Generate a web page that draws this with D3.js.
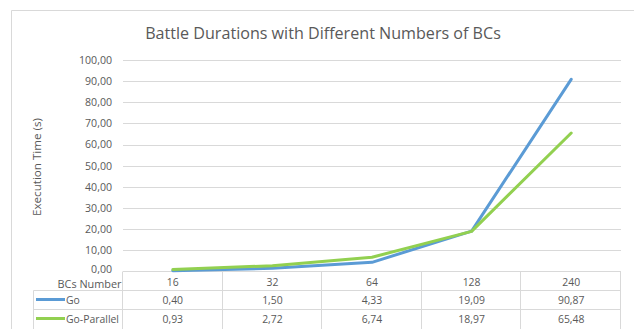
<!DOCTYPE html>
<html>
<head>
<meta charset="utf-8">
<script src="https://cdn.jsdelivr.net/npm/d3@7"></script>
<style>
  html, body { margin: 0; padding: 0; background: #fff; }
  svg { display: block; }
  text { font-family: "Open Sans", "Noto Sans", sans-serif; fill: #595959; }
</style>
</head>
<body>
<svg id="chart" width="634" height="329"></svg>
<script>
// Battle durations per number of BCs
const categories = ["16", "32", "64", "128", "240"];
const goValues = [0.40, 1.50, 4.33, 19.09, 90.87];
const goParallelValues = [0.93, 2.72, 6.74, 18.97, 65.48];
const yTicks = [0, 10, 20, 30, 40, 50, 60, 70, 80, 90, 100];
const seriesNames = ["Go", "Go-Parallel"];
const seriesColors = ["#5b9bd5", "#92d050"];

const chartTitle = "Battle Durations with Different Numbers of BCs";
const yTitle = "Execution Time (s)";
const headerLabel = "BCs Number";

const series = [
  { name: seriesNames[0], values: goValues, color: seriesColors[0] },
  { name: seriesNames[1], values: goParallelValues, color: seriesColors[1] }
];

const svg = d3.select("#chart");
const gridColor = "#d9d9d9";
const fmt = v => d3.format(".2f")(v).replace(".", ",");

// plot geometry
const plot = { left: 123, right: 621, top: 60, bottom: 271.5 };
const x = d3.scaleBand().domain(categories).range([plot.left, plot.right]).paddingInner(0).paddingOuter(0);
const y = d3.scaleLinear().domain([0, 100]).range([plot.bottom, plot.top]);

// outer chart frame (left and top edges visible)
svg.append("path")
  .attr("d", "M11.5,329 L11.5,10.5 L634,10.5")
  .attr("fill", "none").attr("stroke", gridColor).attr("stroke-width", 1);

// font size that makes a string span the given width
function sizeFor(str, targetWidth, probeSize) {
  const t = svg.append("text").attr("font-size", probeSize).text(str);
  const w = t.node().getComputedTextLength();
  t.remove();
  return probeSize * targetWidth / w;
}

// title
svg.append("text")
  .attr("x", 323).attr("y", 38.5)
  .attr("text-anchor", "middle")
  .attr("font-size", sizeFor(chartTitle, 356, 17))
  .text(chartTitle);

// gridlines
svg.append("g").selectAll("line")
  .data(yTicks.filter(t => t > 0))
  .join("line")
  .attr("x1", plot.left).attr("x2", plot.right)
  .attr("y1", d => Math.round(y(d)) + 0.5).attr("y2", d => Math.round(y(d)) + 0.5)
  .attr("stroke", gridColor).attr("stroke-width", 1);

// y axis labels
const tickSize = sizeFor(fmt(100), 33, 11);
const yAxis = d3.axisLeft(y).tickValues(yTicks).tickFormat(fmt).tickSize(0).tickPadding(0);
const yg = svg.append("g").attr("transform", `translate(112,0)`).call(yAxis);
yg.select(".domain").remove();
yg.selectAll("text")
  .attr("font-family", "'Open Sans', sans-serif")
  .attr("font-size", tickSize)
  .attr("fill", "#595959")
  .attr("dy", "0.32em");
// the zero label sits a little higher so it clears the table header
yg.selectAll(".tick").filter(d => d === 0).select("text").attr("dy", "0.12em");

// y axis title
svg.append("text")
  .attr("transform", "translate(41,167) rotate(-90)")
  .attr("text-anchor", "middle")
  .attr("font-size", sizeFor(yTitle, 98, 11))
  .text(yTitle);

// data table
const tableSize = sizeFor("Go-Parallel", 53, 11);
const rowTop = [271.5, 290.5, 309.5];
const rowBottom = 329;
const tableLeft = 33.5;
const tg = svg.append("g");

// horizontal lines
tg.append("line").attr("x1", plot.left).attr("x2", plot.right)
  .attr("y1", rowTop[0]).attr("y2", rowTop[0]).attr("stroke", gridColor);
[rowTop[1], rowTop[2]].forEach(yy => {
  tg.append("line").attr("x1", tableLeft).attr("x2", plot.right)
    .attr("y1", yy).attr("y2", yy).attr("stroke", gridColor);
});
// vertical lines
const colEdges = categories.map(c => x(c)).concat([plot.right]);
tg.selectAll("line.col").data(colEdges).join("line").attr("class", "col")
  .attr("x1", d => Math.round(d) - 0.5).attr("x2", d => Math.round(d) - 0.5)
  .attr("y1", rowTop[0]).attr("y2", rowBottom).attr("stroke", gridColor);
tg.append("line").attr("x1", tableLeft).attr("x2", tableLeft)
  .attr("y1", rowTop[1]).attr("y2", rowBottom).attr("stroke", gridColor);

// header row
tg.selectAll("text.cat").data(categories).join("text").attr("class", "cat")
  .attr("x", d => x(d) + x.bandwidth() / 2).attr("y", rowTop[0] + 14)
  .attr("text-anchor", "middle").attr("font-size", tableSize)
  .text(d => d);
tg.append("text").attr("x", 121.5).attr("y", rowTop[0] + 16)
  .attr("text-anchor", "end")
  .attr("font-size", sizeFor(headerLabel, 64, 11))
  .text(headerLabel);

// series rows
series.forEach((s, i) => {
  const top = rowTop[i + 1];
  const cy = top + 9;
  tg.append("line").attr("x1", 36).attr("x2", 65)
    .attr("y1", cy).attr("y2", cy)
    .attr("stroke", s.color).attr("stroke-width", 3);
  tg.append("text").attr("x", 66).attr("y", cy + 4)
    .attr("font-size", tableSize).text(s.name);
  tg.selectAll(null).data(s.values).join("text")
    .attr("x", (d, j) => x(categories[j]) + x.bandwidth() / 2)
    .attr("y", cy + 4)
    .attr("text-anchor", "middle").attr("font-size", tableSize)
    .text(d => fmt(d));
});

// series lines
const line = d3.line()
  .x((d, j) => x(categories[j]) + x.bandwidth() / 2)
  .y(d => y(d));
svg.append("g").selectAll("path")
  .data(series)
  .join("path")
  .attr("d", d => line(d.values))
  .attr("fill", "none")
  .attr("stroke", d => d.color)
  .attr("stroke-width", 3)
  .attr("stroke-linejoin", "round")
  .attr("stroke-linecap", "round");
</script>
</body>
</html>
